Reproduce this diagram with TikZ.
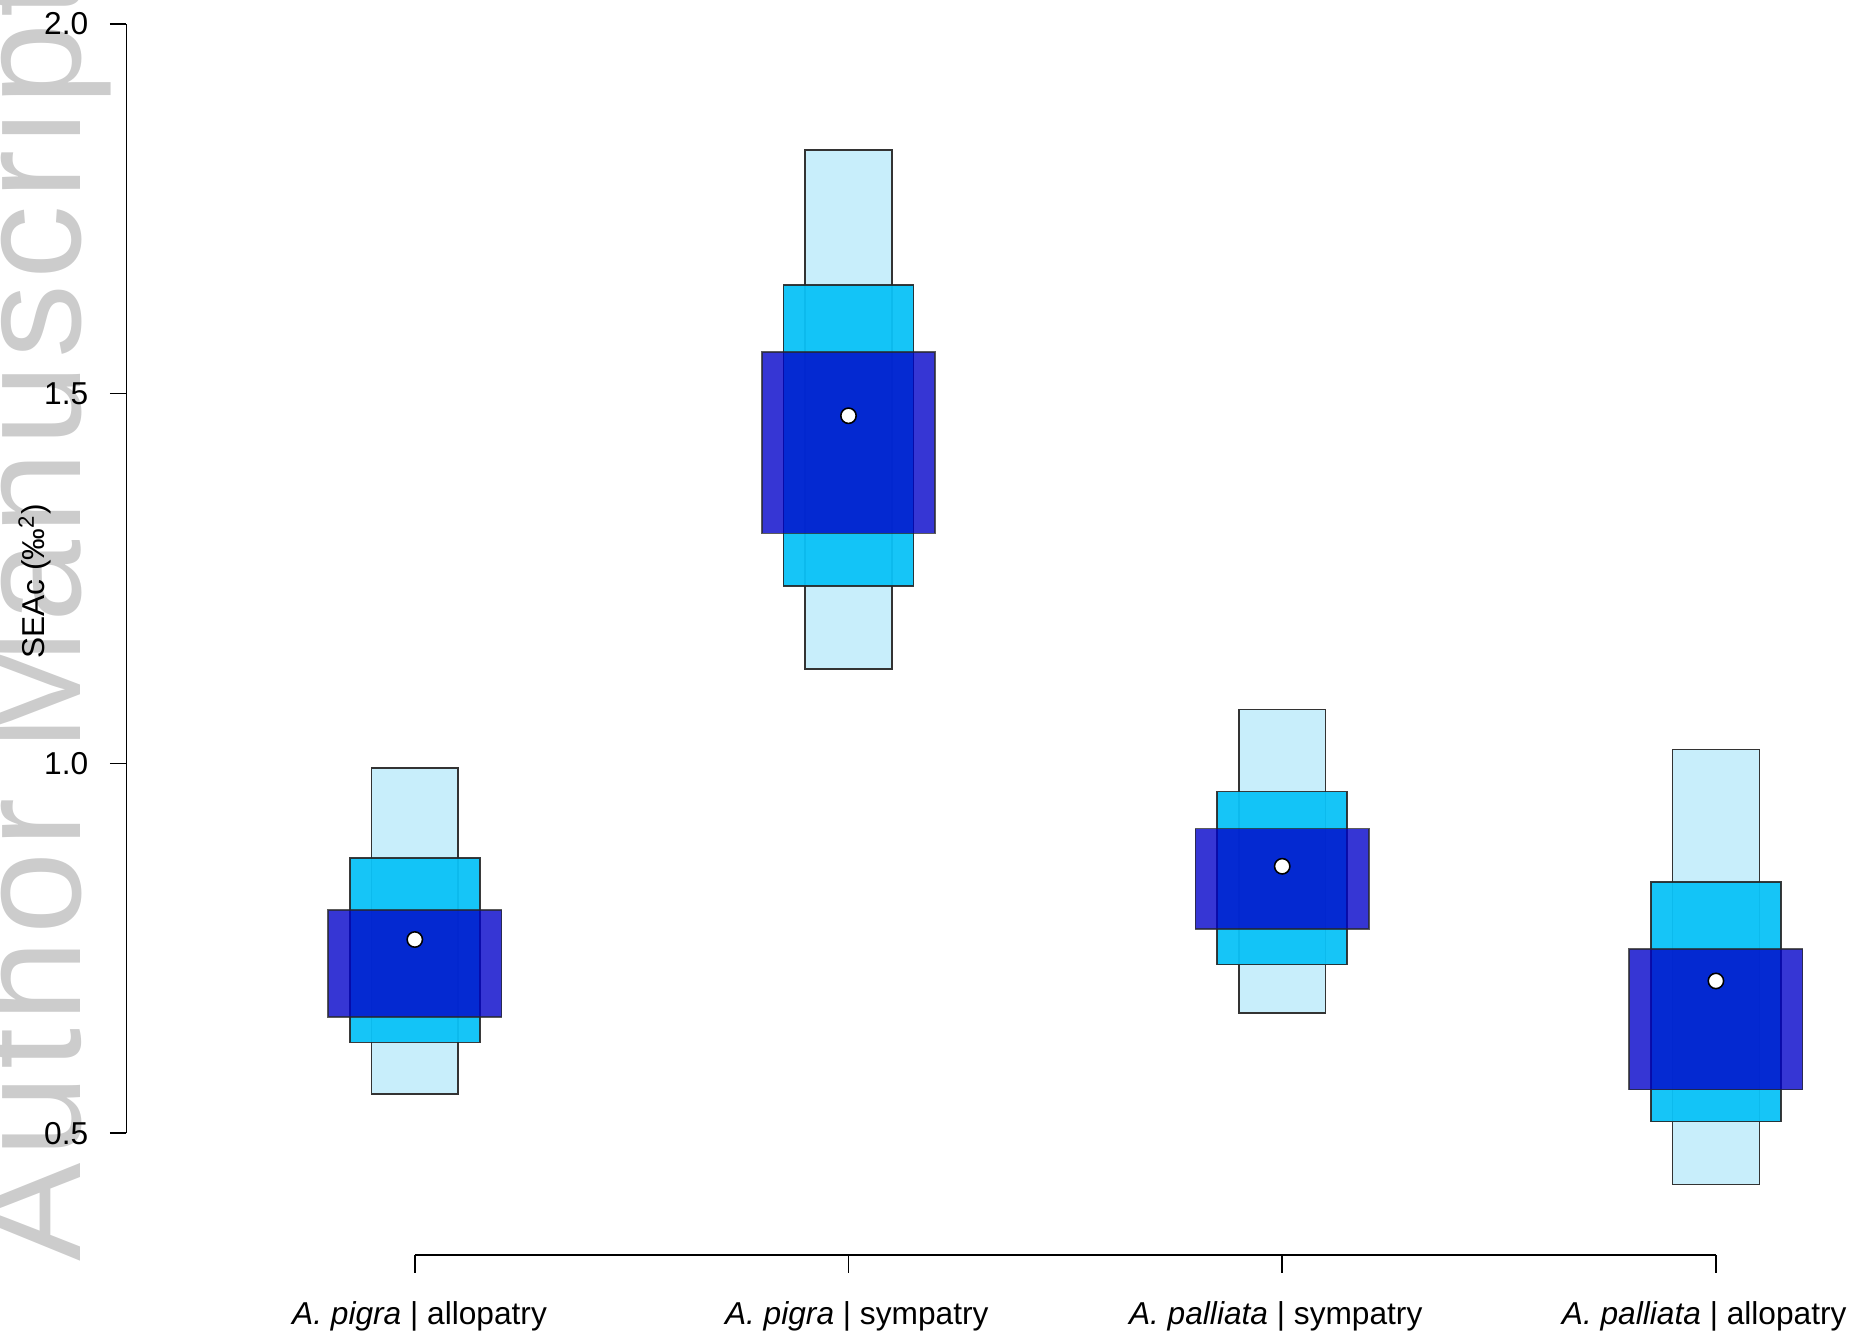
\documentclass[tikz,border=0pt]{standalone}
\usepackage{fontspec}
\setmainfont{Liberation Sans}
\newfontfamily\wmfont[LetterSpace=4]{Liberation Sans}
\definecolor{seapale}{RGB}{200,238,251}
\definecolor{seamid}{RGB}{10,194,247}
\definecolor{seadark}{RGB}{0,0,200}
\definecolor{wmgray}{RGB}{204,204,204}

\begin{document}
\begin{tikzpicture}[x=7.34cm,y=12.52cm,
  every node/.style={inner sep=0pt,font=\fontsize{15.25}{18}\selectfont},
  axis/.style={line width=0.85pt},
  palebox/.style={fill=seapale,draw=black!80,line width=0.75pt},
  midbox/.style={fill=seamid,fill opacity=0.95,draw=black!85,draw opacity=0.9,line width=0.75pt},
  darkbox/.style={fill=seadark,fill opacity=0.79,draw=black!85,draw opacity=0.75,line width=0.75pt},
  modedot/.style={fill=white,draw=black,line width=0.75pt}]
\useasboundingbox (0.0436,0.2236) rectangle (4.3161,2.0320);
\clip (0.0436,0.2236) rectangle (4.3161,2.0320);

% Watermark
\node[rotate=90,anchor=base west,text=wmgray,font=\wmfont\fontsize{71}{71}\selectfont] (wm) at (0.229,0.326) {Author Manuscript};

% Group 1: A. pigra, allopatry
\draw[palebox] (0.9,0.553) rectangle (1.1,0.994);
\draw[midbox] (0.85,0.623) rectangle (1.15,0.872);
\draw[darkbox] (0.8,0.657) rectangle (1.2,0.802);
\draw[modedot] (1,0.762) circle[radius=0.13cm];

% Group 2: A. pigra, sympatry
\draw[palebox] (1.9,1.128) rectangle (2.1,1.829);
\draw[midbox] (1.85,1.240) rectangle (2.15,1.647);
\draw[darkbox] (1.8,1.311) rectangle (2.2,1.556);
\draw[modedot] (2,1.470) circle[radius=0.13cm];

% Group 3: A. palliata, sympatry
\draw[palebox] (2.9,0.663) rectangle (3.1,1.073);
\draw[midbox] (2.85,0.728) rectangle (3.15,0.962);
\draw[darkbox] (2.8,0.776) rectangle (3.2,0.912);
\draw[modedot] (3,0.861) circle[radius=0.13cm];

% Group 4: A. palliata, allopatry
\draw[palebox] (3.9,0.431) rectangle (4.1,1.019);
\draw[midbox] (3.85,0.516) rectangle (4.15,0.840);
\draw[darkbox] (3.8,0.559) rectangle (4.2,0.749);
\draw[modedot] (4,0.706) circle[radius=0.13cm];

% Y axis
\draw[axis] (0.335,0.5) -- (0.335,2.0);
\foreach \v in {0.5,1.0,1.5,2.0} {
  \draw[axis] (0.297,\v) -- (0.335,\v);
  \node[anchor=east] at (0.248,\v) {\v};
}
\node[rotate=90,anchor=base] (ylab) at (0.147,1.246) {SEAc (‰\textsuperscript{2})};

% X axis
\draw[axis] (1,0.3355) -- (4,0.3355);
\foreach \g in {1,2,3,4} {
  \draw[axis] (\g,0.3355) -- (\g,0.3115);
}
\node[anchor=base] (g1) at (1.011,0.2412) {\textit{A. pigra} | allopatry};
\node[anchor=base] (g2) at (2.019,0.2412) {\textit{A. pigra} | sympatry};
\node[anchor=base] (g3) at (2.985,0.2412) {\textit{A. palliata} | sympatry};
\node[anchor=base] (g4) at (3.973,0.2412) {\textit{A. palliata} | allopatry};
\end{tikzpicture}
\end{document}
